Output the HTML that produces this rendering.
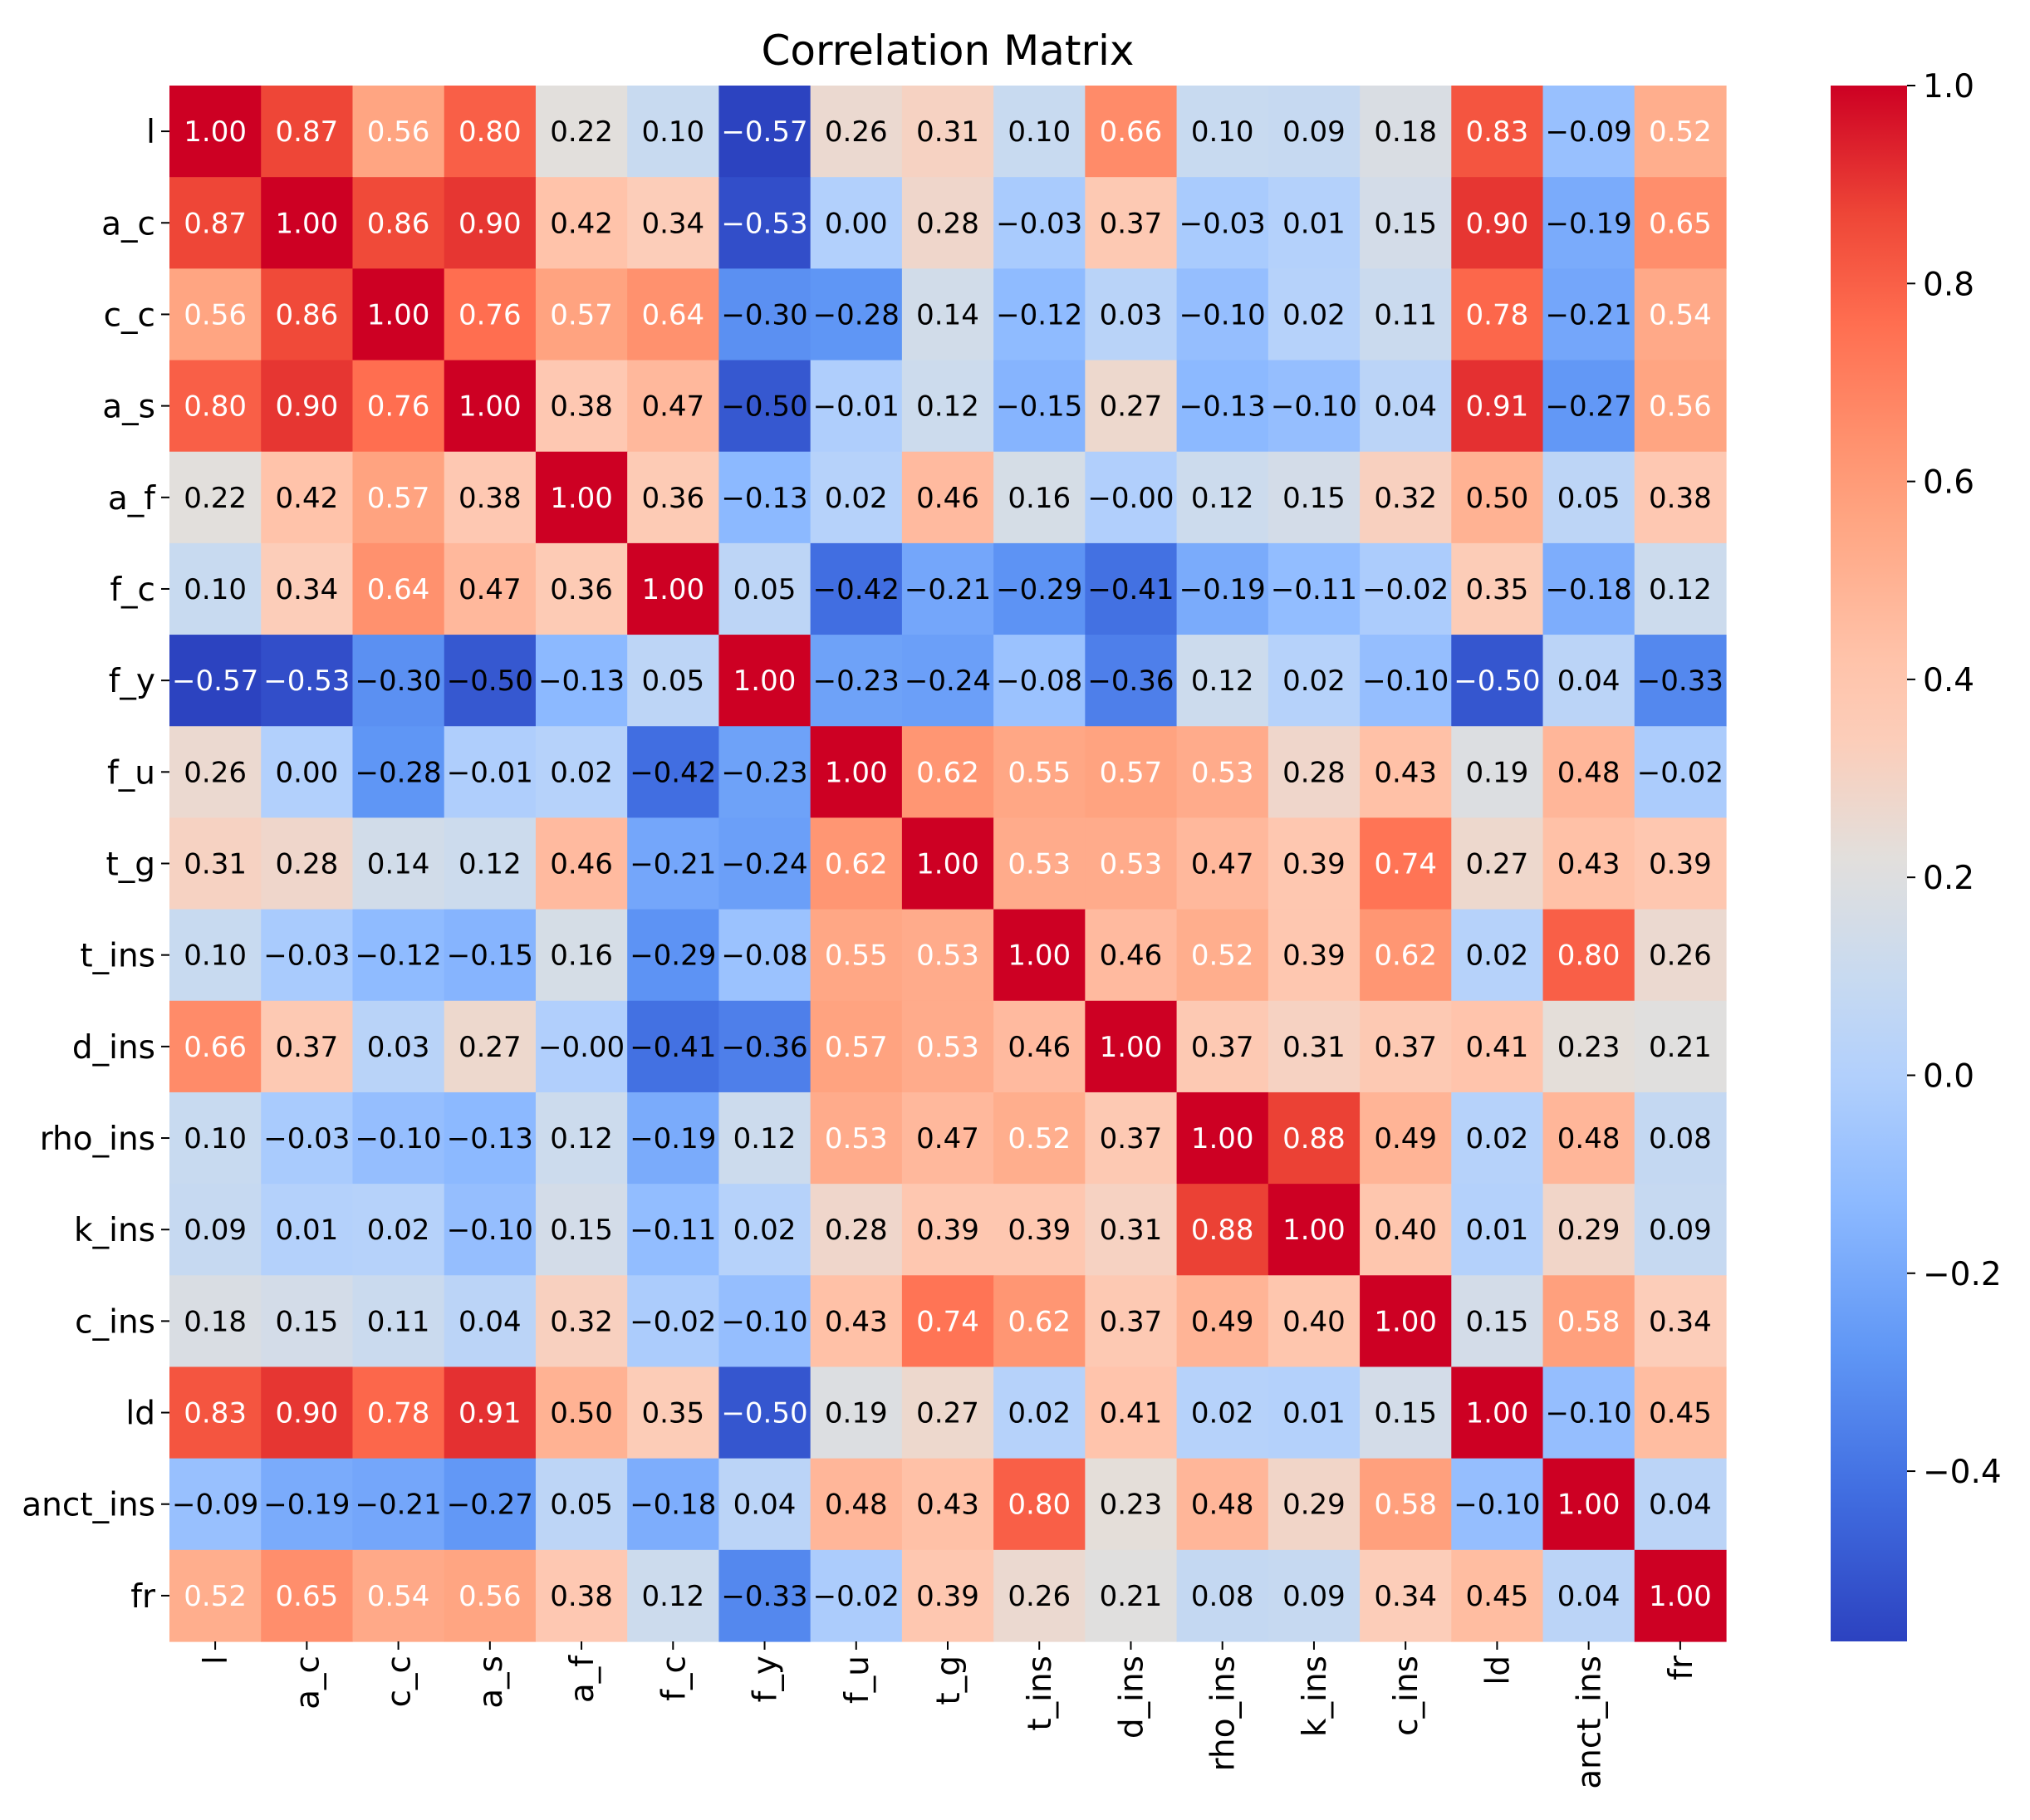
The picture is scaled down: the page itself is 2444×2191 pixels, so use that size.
<!DOCTYPE html>
<html><head><meta charset="utf-8">
<style>
html,body{margin:0;padding:0;background:#fff;}
svg{display:block;font-family:"DejaVu Sans","Liberation Sans",sans-serif;}
</style></head>
<body>
<svg id="chart" width="2444" height="2191" viewBox="0 0 2444 2191" xmlns="http://www.w3.org/2000/svg">
<text x="1141" y="78" font-size="50" text-anchor="middle" fill="#000">Correlation Matrix</text>
<g id="cells"></g>
<g id="ylab"></g>
<g id="xlab"></g>
<defs>
<linearGradient id="cbgrad" x1="0" y1="1" x2="0" y2="0"></linearGradient>
</defs>
<rect x="2204" y="103" width="92" height="1873" fill="url(#cbgrad)"/>
<g id="cbticks"></g>
</svg>
<script>
const labels = ["l","a_c","c_c","a_s","a_f","f_c","f_y","f_u","t_g","t_ins","d_ins","rho_ins","k_ins","c_ins","ld","anct_ins","fr"];
const row_l = [1.00,0.87,0.56,0.80,0.22,0.10,-0.57,0.26,0.31,0.10,0.66,0.10,0.09,0.18,0.83,-0.09,0.52];
const row_a_c = [0.87,1.00,0.86,0.90,0.42,0.34,-0.53,0.00,0.28,-0.03,0.37,-0.03,0.01,0.15,0.90,-0.19,0.65];
const row_c_c = [0.56,0.86,1.00,0.76,0.57,0.64,-0.30,-0.28,0.14,-0.12,0.03,-0.10,0.02,0.11,0.78,-0.21,0.54];
const row_a_s = [0.80,0.90,0.76,1.00,0.38,0.47,-0.497,-0.01,0.12,-0.15,0.27,-0.13,-0.10,0.04,0.91,-0.27,0.56];
const row_a_f = [0.22,0.42,0.57,0.38,1.00,0.36,-0.13,0.02,0.46,0.16,-0.004,0.12,0.15,0.32,0.50,0.05,0.38];
const row_f_c = [0.10,0.34,0.64,0.47,0.36,1.00,0.05,-0.42,-0.21,-0.29,-0.41,-0.19,-0.11,-0.02,0.35,-0.18,0.12];
const row_f_y = [-0.57,-0.53,-0.30,-0.497,-0.13,0.05,1.00,-0.23,-0.24,-0.08,-0.36,0.12,0.02,-0.10,-0.504,0.04,-0.33];
const row_f_u = [0.26,0.00,-0.28,-0.01,0.02,-0.42,-0.23,1.00,0.62,0.55,0.57,0.53,0.28,0.43,0.19,0.48,-0.02];
const row_t_g = [0.31,0.28,0.14,0.12,0.46,-0.21,-0.24,0.62,1.00,0.53,0.53,0.47,0.39,0.74,0.27,0.43,0.39];
const row_t_ins = [0.10,-0.03,-0.12,-0.15,0.16,-0.29,-0.08,0.55,0.53,1.00,0.46,0.52,0.39,0.62,0.02,0.80,0.26];
const row_d_ins = [0.66,0.37,0.03,0.27,-0.004,-0.41,-0.36,0.57,0.53,0.46,1.00,0.37,0.31,0.37,0.41,0.23,0.21];
const row_rho_ins = [0.10,-0.03,-0.10,-0.13,0.12,-0.19,0.12,0.53,0.47,0.52,0.37,1.00,0.88,0.49,0.02,0.48,0.08];
const row_k_ins = [0.09,0.01,0.02,-0.10,0.15,-0.11,0.02,0.28,0.39,0.39,0.31,0.88,1.00,0.40,0.01,0.29,0.09];
const row_c_ins = [0.18,0.15,0.11,0.04,0.32,-0.02,-0.10,0.43,0.74,0.62,0.37,0.49,0.40,1.00,0.15,0.58,0.34];
const row_ld = [0.83,0.90,0.78,0.91,0.50,0.35,-0.504,0.19,0.27,0.02,0.41,0.02,0.01,0.15,1.00,-0.10,0.45];
const row_anct_ins = [-0.09,-0.19,-0.21,-0.27,0.05,-0.18,0.04,0.48,0.43,0.80,0.23,0.48,0.29,0.58,-0.10,1.00,0.04];
const row_fr = [0.52,0.65,0.54,0.56,0.38,0.12,-0.33,-0.02,0.39,0.26,0.21,0.08,0.09,0.34,0.45,0.04,1.00];
const matrix = [row_l,row_a_c,row_c_c,row_a_s,row_a_f,row_f_c,row_f_y,row_f_u,row_t_g,row_t_ins,row_d_ins,row_rho_ins,row_k_ins,row_c_ins,row_ld,row_anct_ins,row_fr];
const cbTicks = [1.0,0.8,0.6,0.4,0.2,0.0,-0.2,-0.4];
const vmin = -0.572, vmax = 1.0;

const NS = "http://www.w3.org/2000/svg";
const X0 = 204, Y0 = 103, W = 1874, H = 1873;
const n = labels.length, cw = W / n, ch = H / n;
const xPos = i => X0 + i * cw;
const yPos = i => Y0 + i * ch;
const cbTop = 103, cbH = 1873;
const cbY = v => cbTop + (vmax - v) / (vmax - vmin) * cbH;

const cstops = [
 [-0.572,[44,66,192]],[-0.42,[65,110,225]],[-0.28,[95,150,245]],[-0.13,[140,185,255]],
 [0.0,[178,208,252]],[0.10,[200,218,240]],[0.22,[226,223,220]],[0.34,[252,205,185]],
 [0.42,[255,195,170]],[0.56,[255,165,130]],[0.64,[255,145,110]],[0.76,[255,110,80]],
 [0.87,[238,70,55]],[1.0,[205,0,35]]];
function color(v){
  v = Math.max(vmin, Math.min(vmax, v));
  for (let i = 0; i < cstops.length-1; i++){
    const a = cstops[i], b = cstops[i+1];
    if (v <= b[0]) { const f = (v-a[0])/(b[0]-a[0]); return a[1].map((c,k)=>Math.round(c+(b[1][k]-c)*f)); }
  }
  return cstops[cstops.length-1][1];
}
function fmt(v){ const s = Math.abs(v).toFixed(2); return v < 0 ? "\u2212" + s : s; }

const cells = document.getElementById("cells");
matrix.forEach((row, r) => {
  row.forEach((v, c) => {
    const rgb = color(v);
    const rect = document.createElementNS(NS, "rect");
    
    
    rect.setAttribute("x", xPos(c)); rect.setAttribute("y", yPos(r));
    rect.setAttribute("width", cw + 0.6); rect.setAttribute("height", ch + 0.6);
    rect.setAttribute("fill", `rgb(${rgb.join(",")})`);
    cells.appendChild(rect);
    const t = document.createElementNS(NS, "text");
    
    
    t.setAttribute("x", xPos(c) + cw/2); t.setAttribute("y", yPos(r) + ch/2 + 12);
    t.setAttribute("text-anchor", "middle"); t.setAttribute("font-size", "34");
    t.setAttribute("fill", (v >= 0.51 || v <= -0.502) ? "#fff" : "#000");
    t.textContent = fmt(v);
    cells.appendChild(t);
  });
});

const ylab = document.getElementById("ylab"), xlab = document.getElementById("xlab");
labels.forEach((lb, i) => {
  const cy = yPos(i) + ch/2;
  const tk = document.createElementNS(NS, "line");
  
  
  tk.setAttribute("x1", X0 - 10); tk.setAttribute("x2", X0); tk.setAttribute("y1", cy); tk.setAttribute("y2", cy);
  tk.setAttribute("stroke", "#000"); tk.setAttribute("stroke-width", "2");
  ylab.appendChild(tk);
  const t = document.createElementNS(NS, "text");
  
  
  t.setAttribute("x", X0 - 17); t.setAttribute("y", cy + 14);
  t.setAttribute("text-anchor", "end"); t.setAttribute("font-size", "39");
  t.textContent = lb; ylab.appendChild(t);

  const cx = xPos(i) + cw/2;
  const tk2 = document.createElementNS(NS, "line");
  
  
  tk2.setAttribute("x1", cx); tk2.setAttribute("x2", cx); tk2.setAttribute("y1", Y0 + H); tk2.setAttribute("y2", Y0 + H + 10);
  tk2.setAttribute("stroke", "#000"); tk2.setAttribute("stroke-width", "2");
  xlab.appendChild(tk2);
  const t2 = document.createElementNS(NS, "text");
  
  
  t2.setAttribute("transform", `translate(${cx + 14},${Y0 + H + 17}) rotate(-90)`);
  t2.setAttribute("text-anchor", "end"); t2.setAttribute("font-size", "39");
  t2.textContent = lb; xlab.appendChild(t2);
});

const grad = document.getElementById("cbgrad");
cstops.forEach(st => {
  const s = document.createElementNS(NS, "stop");
  s.setAttribute("offset", ((st[0]-vmin)/(vmax-vmin)*100) + "%");
  s.setAttribute("stop-color", `rgb(${st[1].join(",")})`);
  grad.appendChild(s);
});
const cbt = document.getElementById("cbticks");
cbTicks.forEach(v => {
  const y = cbY(v);
  const l = document.createElementNS(NS, "line");
  
  
  l.setAttribute("x1", 2296); l.setAttribute("x2", 2306); l.setAttribute("y1", y); l.setAttribute("y2", y);
  l.setAttribute("stroke", "#000"); l.setAttribute("stroke-width", "2");
  cbt.appendChild(l);
  const t = document.createElementNS(NS, "text");
  
  
  t.setAttribute("x", 2315); t.setAttribute("y", y + 14); t.setAttribute("font-size", "39");
  t.textContent = v < 0 ? "\u2212" + Math.abs(v).toFixed(1) : v.toFixed(1);
  cbt.appendChild(t);
});
</script>
</body></html>
